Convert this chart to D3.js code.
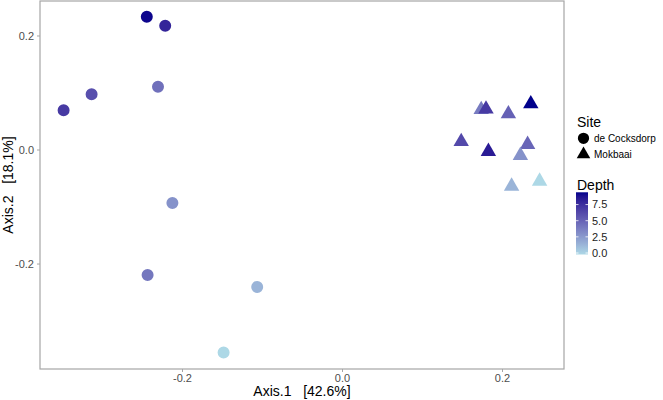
<!DOCTYPE html>
<html>
<head>
<meta charset="utf-8">
<script src="https://cdn.jsdelivr.net/npm/d3@7"></script>
<style>
  html, body { margin: 0; padding: 0; background: #fff; }
  svg { display: block; font-family: "Liberation Sans", Arial, sans-serif; }
</style>
</head>
<body>
<svg id="chart" width="663" height="400"></svg>
<script>
// ---- data ----
const site   = ["de Cocksdorp","de Cocksdorp","de Cocksdorp","de Cocksdorp","de Cocksdorp",
                "de Cocksdorp","de Cocksdorp","de Cocksdorp","de Cocksdorp",
                "Mokbaai","Mokbaai","Mokbaai","Mokbaai","Mokbaai",
                "Mokbaai","Mokbaai","Mokbaai","Mokbaai","Mokbaai"];
const axis1  = [-0.244,-0.221,-0.230,-0.313,-0.348,-0.212,-0.243,-0.106,-0.148,
                 0.174, 0.180, 0.208, 0.236, 0.149, 0.183, 0.232, 0.223, 0.212, 0.247];
const axis2  = [ 0.233, 0.217, 0.110, 0.097, 0.069,-0.094,-0.220,-0.241,-0.356,
                 0.070, 0.071, 0.0625,0.080, 0.014,-0.0035,0.0088,-0.0105,-0.0644,-0.0556];
const depth  = [ 9.2, 8.0, 4.5, 6.0, 7.0, 3.0, 4.2, 1.5, 0.0,
                 4.0, 7.0, 5.2, 9.4, 6.3, 8.4, 5.0, 3.0, 1.5, 0.0];
const siteLevels = ["de Cocksdorp", "Mokbaai"];
const xTicks = [-0.2, 0.0, 0.2];
const yTicks = [-0.2, 0.0, 0.2];
const depthTicks = [0, 2.5, 5, 7.5];
const depthMax = 9.4;
const xTitle = "Axis.1   [42.6%]";
const yTitle = "Axis.2   [18.1%]";

// ---- layout ----
const svg = d3.select("#chart");
const P = { left: 40, right: 564, top: 1, bottom: 369 };

const x = d3.scaleLinear().domain([-0.3775, 0.2775]).range([P.left, P.right]);
const y = d3.scaleLinear().domain([-0.385, 0.2605]).range([P.bottom, P.top]);
const color = d3.scaleLinear().domain([0, depthMax])
  .range(["#ADD8E6", "#00008B"]).interpolate(d3.interpolateLab);
const shape = d3.scaleOrdinal().domain(siteLevels).range([d3.symbolCircle, d3.symbolTriangle]);
const sizeOf = { "de Cocksdorp": 113, "Mokbaai": 103 };
const legSizeOf = { "de Cocksdorp": 100, "Mokbaai": 80 };

// panel border
svg.append("rect")
  .attr("x", P.left).attr("y", P.top)
  .attr("width", P.right - P.left).attr("height", P.bottom - P.top)
  .attr("fill", "none").attr("stroke", "#a6a6a6").attr("stroke-width", 1.2);

// axes
const fmt = d => d3.format(".1f")(d).replace("−", "-");
const gx = svg.append("g").attr("transform", `translate(0,${P.bottom})`)
  .call(d3.axisBottom(x).tickValues(xTicks).tickFormat(fmt).tickSize(3).tickPadding(2));
const gy = svg.append("g").attr("transform", `translate(${P.left},0)`)
  .call(d3.axisLeft(y).tickValues(yTicks).tickFormat(fmt).tickSize(3).tickPadding(3));
[gx, gy].forEach(g => {
  g.select(".domain").remove();
  g.selectAll(".tick line").attr("stroke", "#a6a6a6");
  g.selectAll(".tick text").attr("fill", "#4d4d4d").style("font-size", "11px")
    .style("font-family", '"Liberation Sans", Arial, sans-serif');
});

// axis titles
svg.append("text").attr("x", (P.left + P.right) / 2).attr("y", 396)
  .attr("text-anchor", "middle").style("font-size", "14px").style("white-space", "pre")
  .attr("fill", "#000").text(xTitle);
svg.append("text")
  .attr("transform", `translate(13,${(P.top + P.bottom) / 2}) rotate(-90)`)
  .attr("text-anchor", "middle").style("font-size", "14px").style("white-space", "pre")
  .attr("fill", "#000").text(yTitle);

// points
const data = axis1.map((v, i) => ({ a1: v, a2: axis2[i], site: site[i], depth: depth[i] }));
svg.append("g").selectAll("path").data(data).join("path")
  .attr("transform", d => `translate(${x(d.a1)},${y(d.a2)})`)
  .attr("d", d => d3.symbol(shape(d.site), sizeOf[d.site])())
  .attr("fill", d => color(d.depth));

// legend: Site
const lg = svg.append("g");
lg.append("text").attr("x", 577).attr("y", 127).style("font-size", "14px").attr("fill", "#000").text("Site");
const legY = [138.3, 154.4];
siteLevels.forEach((s, i) => {
  const cy = legY[i];
  lg.append("path").attr("transform", `translate(583.5,${cy})`)
    .attr("d", d3.symbol(shape(s), legSizeOf[s])()).attr("fill", "#000");
  lg.append("text").attr("x", 594).attr("y", i === 0 ? 141.8 : 158).style("font-size", "10px")
    .attr("fill", "#000").text(s);
});

// legend: Depth colorbar
lg.append("text").attr("x", 577).attr("y", 189.5).style("font-size", "14px").attr("fill", "#000").text("Depth");
const barTop = 192.3, barBot = 254.5, barX = 576, barW = 12;
const db = d3.scaleLinear().domain([0, depthMax]).range([barBot - 1.5, barTop]);
const defs = svg.append("defs");
const grad = defs.append("linearGradient").attr("id", "dgrad")
  .attr("x1", 0).attr("y1", 1).attr("x2", 0).attr("y2", 0);
d3.range(0, 1.0001, 0.05).forEach(t => {
  grad.append("stop").attr("offset", t).attr("stop-color", color(t * depthMax));
});
lg.append("rect").attr("x", barX).attr("y", barTop).attr("width", barW).attr("height", barBot - barTop)
  .attr("fill", "url(#dgrad)");
depthTicks.forEach(t => {
  const ty = db(t);
  lg.append("line").attr("x1", barX).attr("x2", barX + 2.5).attr("y1", ty).attr("y2", ty)
    .attr("stroke", "#fff").attr("stroke-width", 0.8);
  lg.append("line").attr("x1", barX + barW - 2.5).attr("x2", barX + barW).attr("y1", ty).attr("y2", ty)
    .attr("stroke", "#fff").attr("stroke-width", 0.8);
  lg.append("text").attr("x", 592).attr("y", ty + 3.8).style("font-size", "11px").attr("fill", "#222")
    .text(d3.format(".1f")(t));
});
</script>
</body>
</html>
